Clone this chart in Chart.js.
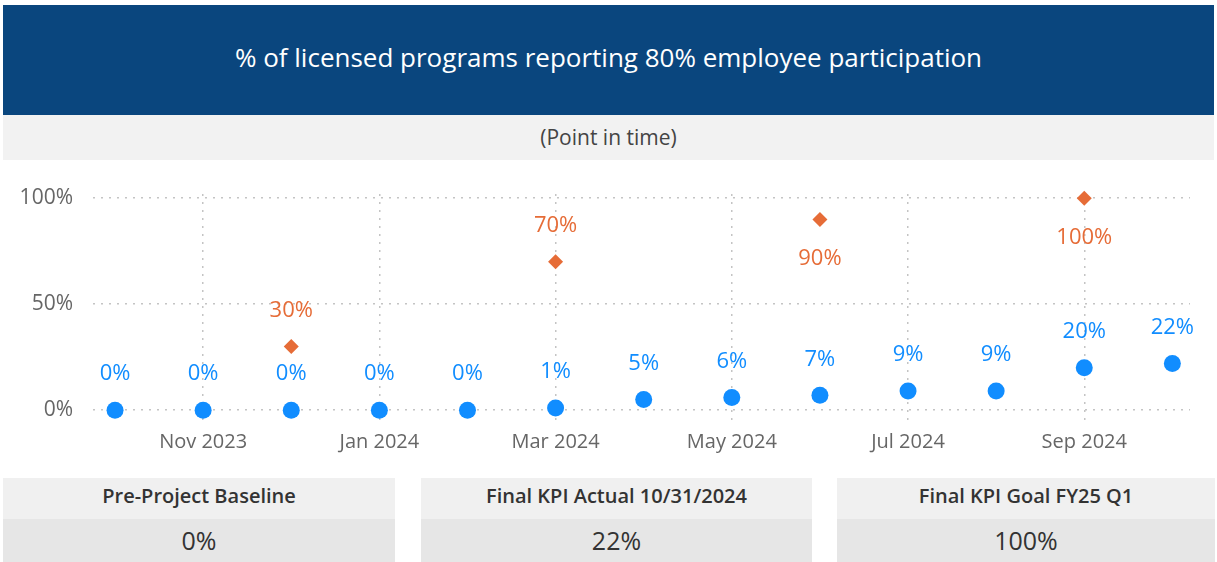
<!DOCTYPE html>
<html>
<head>
<meta charset="utf-8">
<script src="https://cdn.jsdelivr.net/npm/chart.js@4.4.1/dist/chart.umd.min.js"></script>
<style>
  html, body { margin: 0; padding: 0; background: #fff; }
  body { width: 1217px; height: 562px; position: relative; overflow: hidden; font-family: 'Segoe UI', 'Open Sans', sans-serif; }
  #banner { position: absolute; left: 3px; top: 5px; width: 1211px; height: 104px; padding-bottom: 6px; background: #0a467e;
            color: #fff; font-size: 26px; display: flex; align-items: center; justify-content: center; }
  #sub { position: absolute; left: 3px; top: 115px; width: 1211px; height: 43px; padding-bottom: 2px; background: #f2f2f2;
         color: #444; font-size: 21px; display: flex; align-items: center; justify-content: center; }
  #chartBox { position: absolute; left: 0; top: 160px; width: 1217px; height: 310px; }
  .card { position: absolute; top: 478px; }
  .card .hd { height: 35px; padding-bottom: 6px; background: #f0f0f0; color: #333; font-weight: 600; font-size: 20px;
              display: flex; align-items: center; justify-content: center; }
  .card .val { height: 41px; padding-bottom: 2px; background: #e6e6e6; color: #333; font-size: 25px;
               display: flex; align-items: center; justify-content: center; }
</style>
</head>
<body>
<div id="banner">% of licensed programs reporting 80% employee participation</div>
<div id="sub">(Point in time)</div>
<div id="chartBox"><canvas id="c" width="1217" height="310"></canvas></div>
<div id="cards"></div>
<script>
// meses (1er día de cada mes)
const monthLabels = ['Oct 2023', 'Nov 2023', 'Dec 2023', 'Jan 2024', 'Feb 2024', 'Mar 2024', 'Apr 2024',
                     'May 2024', 'Jun 2024', 'Jul 2024', 'Aug 2024', 'Sep 2024', 'Oct 2024'];
const actualPct = [0, 0, 0, 0, 0, 1, 5, 6, 7, 9, 9, 20, 22];
const goalPct   = [null, null, 30, null, null, 70, null, null, 90, null, null, 100, null];
const yTicks = [0, 50, 100];

const kpiTitles = ['Pre-Project Baseline', 'Final KPI Actual 10/31/2024', 'Final KPI Goal FY25 Q1'];
const kpiValues = ['0%', '22%', '100%'];
const kpiLeft   = [3, 421, 837];
const kpiWidth  = [392, 391, 378];

const BLUE = '#118dff', ORANGE = '#e66c37', GRID = '#c4c4c4';
const FONT = '"Segoe UI", "Open Sans", sans-serif';

// tarjetas KPI
const cards = document.getElementById('cards');
kpiTitles.forEach((t, i) => {
  const d = document.createElement('div');
  d.className = 'card';
  d.style.left = kpiLeft[i] + 'px';
  d.style.width = kpiWidth[i] + 'px';
  d.innerHTML = `<div class="hd">${t}</div><div class="val">${kpiValues[i]}</div>`;
  cards.appendChild(d);
});

const toPts = arr => arr.map((v, i) => ({ x: i, y: v })).filter(p => p.y !== null);

// etiquetas de datos (arriba, o abajo si no caben)
const labelPlugin = {
  id: 'labels',
  afterDatasetsDraw(chart) {
    const ctx = chart.ctx, area = chart.chartArea;
    ctx.save();
    ctx.font = '22px ' + FONT;
    ctx.textAlign = 'center';
    ctx.textBaseline = 'middle';
    chart.data.datasets.forEach((ds, di) => {
      const meta = chart.getDatasetMeta(di);
      meta.data.forEach((pt, i) => {
        const v = ds.data[i].y;
        let y = pt.y - 36;
        if (y - 10 < area.top) y = pt.y + 39;
        ctx.fillStyle = ds.borderColor;
        ctx.fillText(v + '%', pt.x, y);
      });
    });
    ctx.restore();
  }
};

new Chart(document.getElementById('c'), {
  type: 'scatter',
  data: {
    datasets: [
      { label: 'Actual', data: toPts(actualPct), backgroundColor: BLUE, borderColor: BLUE,
        pointRadius: 8.5, pointHoverRadius: 8.5, borderWidth: 0, clip: false },
      { label: 'Goal', data: toPts(goalPct), backgroundColor: ORANGE, borderColor: ORANGE,
        pointStyle: 'rectRot', pointRadius: 7.5, pointHoverRadius: 7.5, borderWidth: 0, clip: false }
    ]
  },
  options: {
    responsive: false,
    animation: false,
    layout: { padding: { top: 34, right: 27, left: 0, bottom: 0 } },
    plugins: { legend: { display: false }, tooltip: { enabled: false } },
    scales: {
      x: {
        type: 'linear', min: -0.25, max: 12.2,
        afterFit: s => { s.height = 45; },
        afterBuildTicks: s => { s.ticks = monthLabels.map((m, i) => ({ value: i })); },
        ticks: { autoSkip: false, maxRotation: 0, padding: 5, color: '#666',
                 font: { size: 20, family: FONT },
                 callback: v => (v % 2 === 1 ? monthLabels[v] : '') },
        grid: { drawTicks: false, lineWidth: 1.5,
                color: c => (c.tick && c.tick.value % 2 === 1 ? GRID : 'rgba(0,0,0,0)') },
        border: { display: false, dash: [2, 6] }
      },
      y: {
        min: -7, max: 102,
        afterFit: s => { s.width = 93; },
        afterBuildTicks: s => { s.ticks = yTicks.map(v => ({ value: v })); },
        ticks: { padding: 20, color: '#666', font: { size: 21, family: FONT },
                 callback: v => v + '%' },
        grid: { drawTicks: false, lineWidth: 1.5, color: GRID },
        border: { display: false, dash: [2, 6] }
      }
    }
  },
  plugins: [labelPlugin]
});
</script>
</body>
</html>
